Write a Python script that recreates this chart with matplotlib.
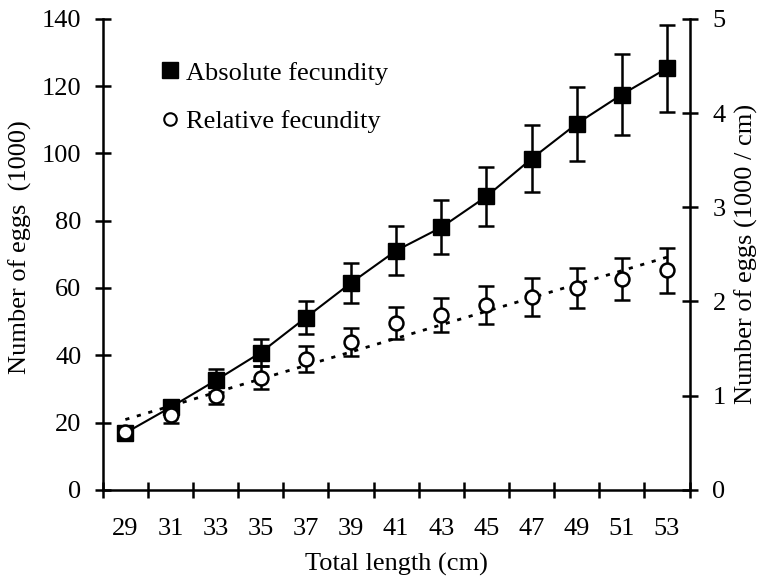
import numpy as np
import matplotlib.pyplot as plt
from matplotlib.lines import Line2D

plt.rcParams['font.family'] = 'Liberation Serif'
plt.rcParams['font.size'] = 19

# total length classes (cm)
length = [29, 31, 33, 35, 37, 39, 41, 43, 45, 47, 49, 51, 53]
# absolute fecundity, 1000 eggs (left axis)
absolute = [16.9, 24.5, 32.5, 40.8, 51.2, 61.5, 71.1, 78.0, 87.2, 98.4, 108.8, 117.5, 125.3]
absolute_err = [1.0, 2.0, 3.5, 4.0, 5.0, 6.0, 7.3, 8.0, 8.8, 10.0, 11.0, 12.0, 13.0]
# relative fecundity, 1000 eggs / cm (right axis)
relative = [0.61, 0.79, 1.00, 1.19, 1.39, 1.57, 1.77, 1.86, 1.96, 2.05, 2.14, 2.24, 2.33]
relative_err = [0.04, 0.08, 0.09, 0.12, 0.14, 0.15, 0.17, 0.18, 0.20, 0.20, 0.21, 0.22, 0.24]

fig = plt.figure(figsize=(7.73, 5.88), dpi=100)
ax = fig.add_axes([0.133, 0.167, 0.759, 0.801])
ax2 = ax.twinx()

ax.errorbar(length, absolute, yerr=absolute_err, fmt='s-', color='black',
            ms=11, lw=1.5, elinewidth=1.8, capsize=6, capthick=1.8)

# linear trend of relative fecundity
coef = np.polyfit(length, relative, 1)
fit_x = np.array([length[0], length[-1]])
ax2.plot(fit_x, np.polyval(coef, fit_x), color='black', lw=2,
         linestyle=(0, (1.5, 2.8)))
ax2.errorbar(length, relative, yerr=relative_err, fmt='o', mfc='white',
             mec='black', mew=1.8, ms=10, ecolor='black', elinewidth=1.8,
             capsize=5.5, capthick=1.8)

ax.set_xlim(28, 54)
ax.set_ylim(0, 140)
ax2.set_ylim(0, 5)

for s in ['top', 'right']:
    ax.spines[s].set_visible(False)
for s in ['top', 'left', 'bottom']:
    ax2.spines[s].set_visible(False)
ax.spines['left'].set_linewidth(1.8)
ax.spines['bottom'].set_linewidth(1.8)
ax2.spines['right'].set_linewidth(1.8)

ax.set_yticks(range(0, 141, 20))
ax2.set_yticks(range(0, 6))
ax.set_xticks(length)
ax.set_xticks(np.arange(28, 55, 2), minor=True)
ax.tick_params(axis='x', which='major', length=0, pad=20)
ax.tick_params(axis='x', which='minor', direction='inout', length=12, width=1.8)
ax.tick_params(axis='y', direction='inout', length=11, width=1.8, pad=10)
ax2.tick_params(axis='y', direction='inout', length=11, width=1.8, pad=11)

ax.set_xlabel('Total length (cm)')
ax.xaxis.set_label_coords(0.5, -0.135)
ax.set_ylabel('Number of eggs  (1000)')
ax.yaxis.set_label_coords(-0.12, 0.516)
ax2.set_ylabel('Number of eggs (1000 / cm)')
ax2.yaxis.set_label_coords(1.077, 0.5)

h1 = Line2D([], [], marker='s', color='black', ls='none', ms=11)
h2 = Line2D([], [], marker='o', mfc='white', mec='black', mew=1.5, ls='none', ms=9)
ax2.legend([h1, h2], ['Absolute fecundity', 'Relative fecundity'],
           loc='upper left', bbox_to_anchor=(0.099, 0.91), frameon=False,
           borderpad=0, borderaxespad=0, handlelength=0.7,
           handletextpad=0.25, labelspacing=0.95)

fig.savefig('out.png', dpi=100)
